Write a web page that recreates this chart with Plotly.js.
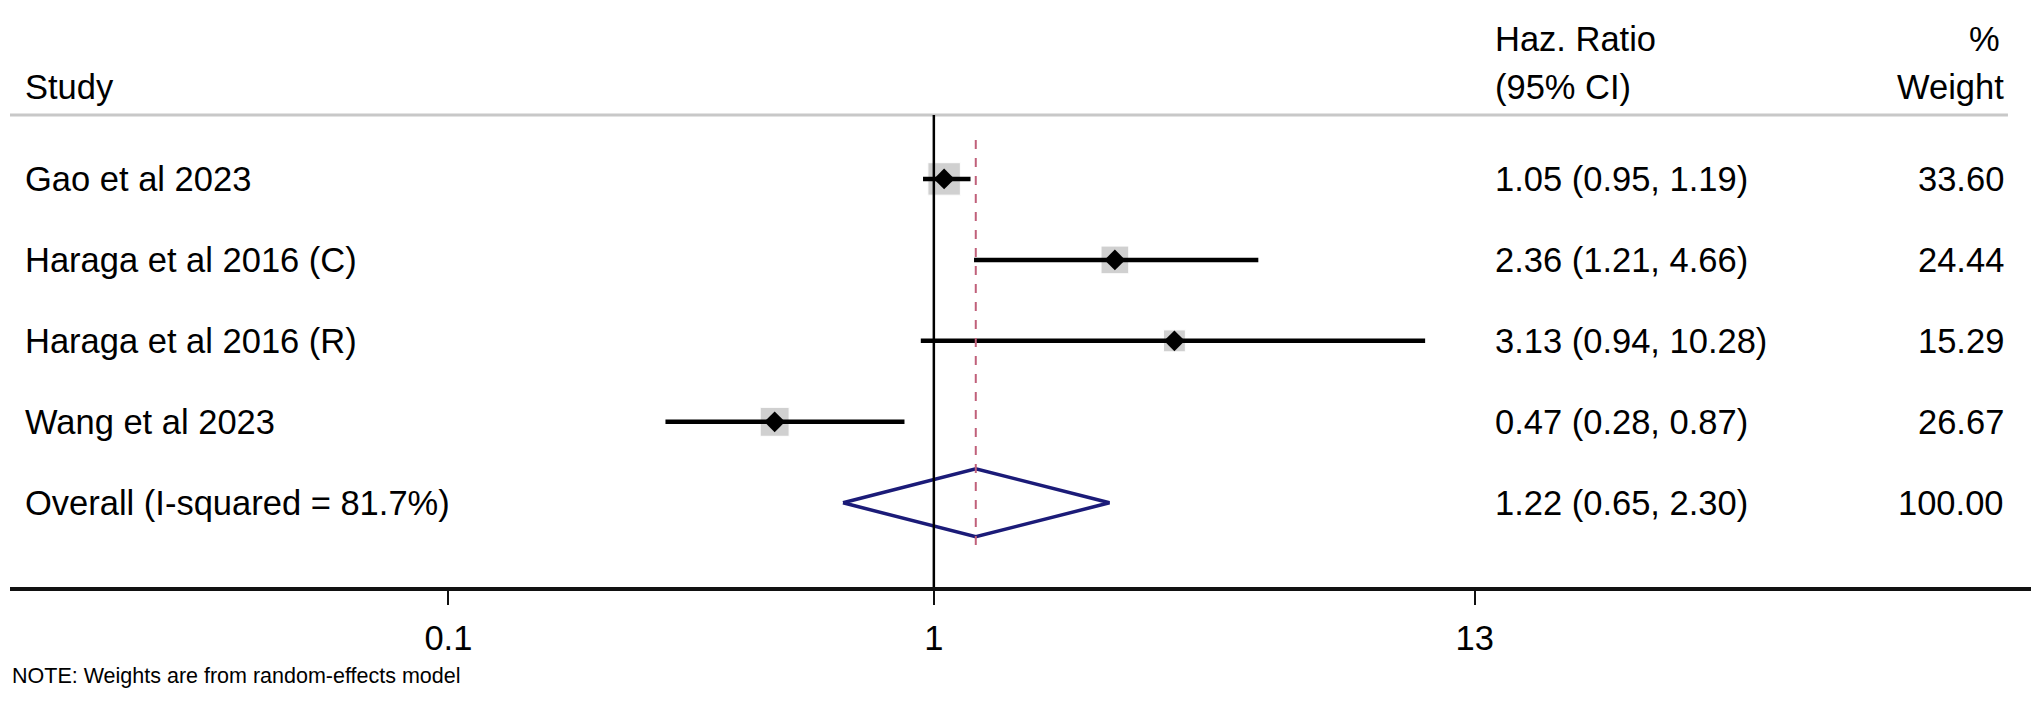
<!DOCTYPE html>
<html>
<head>
<meta charset="utf-8">
<script src="https://cdn.plot.ly/plotly-3.0.1.min.js"></script>
<style>
  body { margin: 0; background: #fff; }
  #forest { width: 2031px; height: 709px; }
</style>
</head>
<body>
<div id="forest"></div>
<script>
// study data
var studies = ['Gao et al 2023', 'Haraga et al 2016 (C)', 'Haraga et al 2016 (R)', 'Wang et al 2023'];
var hr = [1.05, 2.36, 3.13, 0.47];
var lo = [0.95, 1.21, 0.94, 0.28];
var hi = [1.19, 4.66, 10.28, 0.87];
var weight = [33.60, 24.44, 15.29, 26.67];

// pooled estimate
var overallLabel = 'Overall (I-squared = 81.7%)';
var overallHr = 1.22;
var overallLo = 0.65;
var overallHi = 2.30;
var overallWeight = 100.00;

var tickVals = [0.1, 1, 13];
var tickText = ['0.1', '1', '13'];

var font = 'Liberation Sans, Arial, sans-serif';
var fs = 34.5;

// rows from top: studies 5..2, overall 1
var rows = studies.map(function (s, i) { return studies.length + 1 - i; });
var overallRow = 1;

var fmt = function (v) { return v.toFixed(2); };

// grey weight boxes
var boxes = {
  x: hr, y: rows, type: 'scatter', mode: 'markers',
  marker: {symbol: 'square', color: '#bdbdbd', size: weight.map(function (w) { return 5.6 * Math.sqrt(w); })},
  hoverinfo: 'skip'
};

// confidence interval lines
var ciX = [], ciY = [];
for (var i = 0; i < studies.length; i++) {
  ciX.push(lo[i], hi[i], null);
  ciY.push(rows[i], rows[i], null);
}
var ci = {
  x: ciX, y: ciY, type: 'scatter', mode: 'lines',
  line: {color: '#000', width: 4.5}, hoverinfo: 'skip'
};

// point estimates
var points = {
  x: hr, y: rows, type: 'scatter', mode: 'markers',
  marker: {symbol: 'diamond', color: '#000', size: 16}
};

// overall diamond
var h = 0.42;
var diamond = {
  x: [overallLo, overallHr, overallHi, overallHr, overallLo],
  y: [overallRow, overallRow + h, overallRow, overallRow - h, overallRow],
  type: 'scatter', mode: 'lines',
  line: {color: '#1b1b78', width: 3.5}, hoverinfo: 'skip'
};

var data = [boxes, ci, points, diamond];

var headerY = rows[0] + 0.79;

var annotations = [];
function txt(text, x, y, anchor, yref) {
  annotations.push({
    text: text, x: x, y: y, xref: 'paper', yref: yref || 'y',
    xanchor: anchor, yanchor: 'middle', showarrow: false,
    font: {family: font, size: fs, color: '#000'}
  });
}

// header
txt('Study', 0.0064, 0.852, 'left', 'paper');
txt('Haz. Ratio', 0.7338, 0.934, 'left', 'paper');
txt('(95% CI)', 0.7338, 0.852, 'left', 'paper');
txt('%', 0.9855, 0.934, 'right', 'paper');
txt('Weight', 0.9876, 0.852, 'right', 'paper');

for (var j = 0; j < studies.length; j++) {
  txt(studies[j], 0.0064, rows[j], 'left');
  txt(fmt(hr[j]) + ' (' + fmt(lo[j]) + ', ' + fmt(hi[j]) + ')', 0.7338, rows[j], 'left');
  txt(fmt(weight[j]), 0.9876, rows[j], 'right');
}
txt(overallLabel, 0.0064, overallRow, 'left');
txt(fmt(overallHr) + ' (' + fmt(overallLo) + ', ' + fmt(overallHi) + ')', 0.7338, overallRow, 'left');
txt(fmt(overallWeight), 0.9876, overallRow, 'right');

// note below the axis (paper units, plot bottom is at 587px)
annotations.push({
  text: 'NOTE: Weights are from random-effects model',
  x: 0.0, y: -(676 - 587) / 587, xref: 'paper', yref: 'paper', showarrow: false,
  xanchor: 'left', yanchor: 'middle',
  font: {family: font, size: 21.5, color: '#000'}
});

var shapes = [
  // header rule
  {type: 'line', xref: 'paper', yref: 'y', x0: 0, x1: 0.9886, y0: headerY, y1: headerY,
    line: {color: '#c8c8c8', width: 3}},
  // line of no effect, stops at header rule
  {type: 'line', xref: 'x', yref: 'y', x0: 1, x1: 1, y0: -0.04, y1: headerY,
    line: {color: '#000', width: 2.5}},
  // overall estimate
  {type: 'line', xref: 'x', yref: 'y', x0: overallHr, x1: overallHr,
    y0: overallRow - 0.52, y1: rows[0] + 0.55,
    line: {color: '#c0607a', width: 2, dash: 'dash'}}
];

var layout = {
  width: 2031, height: 709,
  margin: {l: 10, r: 0, t: 0, b: 122, pad: 0},
  paper_bgcolor: '#fff', plot_bgcolor: '#fff',
  showlegend: false,
  font: {family: font, size: fs, color: '#000'},
  xaxis: {
    type: 'log', range: [-1.903, 2.26],
    showgrid: false, zeroline: false,
    showline: true, linecolor: '#111', linewidth: 3.5,
    ticks: 'outside', ticklen: 14, tickwidth: 2, tickcolor: '#111',
    tickvals: tickVals, ticktext: tickText, ticklabelstandoff: 4,
    tickfont: {family: font, size: fs, color: '#000'}
  },
  yaxis: {
    range: [-0.04, 7.21], visible: false, fixedrange: true
  },
  annotations: annotations,
  shapes: shapes
};

Plotly.newPlot('forest', data, layout, {displayModeBar: false, staticPlot: true});
</script>
</body>
</html>
